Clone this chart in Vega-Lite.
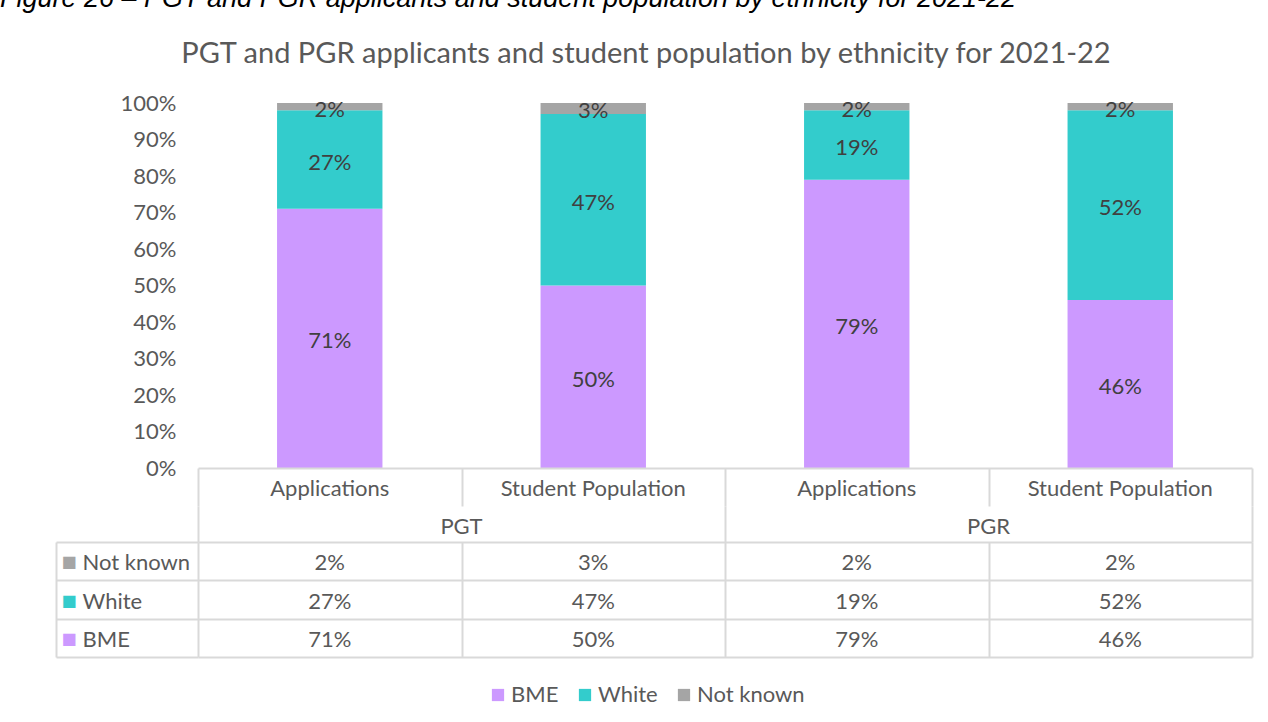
{
  "$schema": "https://vega.github.io/schema/vega-lite/v6.json",
  "padding": {"left": 0, "top": -15, "right": 10, "bottom": 10},
  "background": "white",
  "title": {
    "text": "Figure 26 – PGT and PGR applicants and student population by ethnicity for 2021-22",
    "anchor": "start", "frame": "bounds", "dx": -55,
    "font": "Liberation Sans", "fontStyle": "italic", "fontWeight": "normal",
    "fontSize": 27, "color": "#000000", "baseline": "alphabetic", "offset": 6
  },
  "datasets": {
    "d": [
      {"grp": "PGT", "sub": "Applications", "col": "PGT Applications", "eth": "BME", "val": 0.71},
      {"grp": "PGT", "sub": "Applications", "col": "PGT Applications", "eth": "White", "val": 0.27},
      {"grp": "PGT", "sub": "Applications", "col": "PGT Applications", "eth": "Not known", "val": 0.02},
      {"grp": "PGT", "sub": "Student Population", "col": "PGT Student Population", "eth": "BME", "val": 0.50},
      {"grp": "PGT", "sub": "Student Population", "col": "PGT Student Population", "eth": "White", "val": 0.47},
      {"grp": "PGT", "sub": "Student Population", "col": "PGT Student Population", "eth": "Not known", "val": 0.03},
      {"grp": "PGR", "sub": "Applications", "col": "PGR Applications", "eth": "BME", "val": 0.79},
      {"grp": "PGR", "sub": "Applications", "col": "PGR Applications", "eth": "White", "val": 0.19},
      {"grp": "PGR", "sub": "Applications", "col": "PGR Applications", "eth": "Not known", "val": 0.02},
      {"grp": "PGR", "sub": "Student Population", "col": "PGR Student Population", "eth": "BME", "val": 0.46},
      {"grp": "PGR", "sub": "Student Population", "col": "PGR Student Population", "eth": "White", "val": 0.52},
      {"grp": "PGR", "sub": "Student Population", "col": "PGR Student Population", "eth": "Not known", "val": 0.02}
    ]
  },
  "spacing": 0,
  "bounds": "flush",
  "vconcat": [
    {
      "width": 1054, "height": 365,
      "data": {"name": "d"},
      "title": {
        "text": "PGT and PGR applicants and student population by ethnicity for 2021-22",
        "font": "Lato", "fontSize": 29, "fontWeight": "normal", "color": "#595959",
        "anchor": "middle", "frame": "group", "dx": -79, "baseline": "alphabetic", "offset": 0
      },
      "transform": [
        {"calculate": "indexof(['BME','White','Not known'], datum.eth)", "as": "ord"},
        {"stack": "val", "groupby": ["col"], "sort": [{"field": "ord", "order": "ascending"}], "as": ["v0", "v1"]},
        {"calculate": "(datum.v0 + datum.v1) / 2", "as": "mid"}
      ],
      "layer": [
        {
          "mark": {"type": "bar"},
          "encoding": {
            "x": {"field": "col", "type": "nominal",
                  "scale": {"domain": ["PGT Applications", "PGT Student Population", "PGR Applications", "PGR Student Population"], "paddingInner": 0.6, "paddingOuter": 0.3},
                  "axis": null},
            "y": {"field": "v0", "type": "quantitative",
                  "scale": {"domain": [0, 1], "nice": false, "clamp": true},
                  "axis": {"values": [0, 0.1, 0.2, 0.3, 0.4, 0.5, 0.6, 0.7, 0.8, 0.9, 1], "format": ".0%", "labelOverlap": false, "grid": false, "domain": false, "ticks": false, "labelPadding": 22, "labelFontSize": 22, "title": null}},
            "y2": {"field": "v1"},
            "color": {"field": "eth", "type": "nominal",
                      "scale": {"domain": ["BME", "White", "Not known"], "range": ["#CC99FF", "#33CCCC", "#A5A5A5"]},
                      "legend": {"orient": "none", "legendX": 289, "legendY": 581, "direction": "horizontal", "title": null, "padding": 0, "symbolType": "square", "symbolSize": 150, "symbolStrokeWidth": 0, "labelFontSize": 22, "labelFont": "Lato", "labelColor": "#595959", "columnPadding": 15, "labelOffset": 2}}
          }
        },
        {
          "mark": {"type": "text", "font": "Lato", "fontSize": 22, "color": "#404040", "dy": 3},
          "encoding": {
            "x": {"field": "col", "type": "nominal"},
            "y": {"field": "mid", "type": "quantitative",
                  "axis": {"values": [0, 0.1, 0.2, 0.3, 0.4, 0.5, 0.6, 0.7, 0.8, 0.9, 1], "format": ".0%", "labelOverlap": false, "grid": false, "domain": false, "ticks": false, "labelPadding": 22, "labelFontSize": 22, "title": null}},
            "text": {"field": "val", "type": "quantitative", "format": ".0%"}
          }
        }
      ]
    },
    {
      "width": 1054, "height": 38,
      "data": {"name": "d"},
      "transform": [{"filter": "datum.eth === 'BME'"}],
      "mark": {"type": "text", "font": "Lato", "fontSize": 22, "color": "#595959", "dy": 2},
      "encoding": {
        "x": {"field": "col", "type": "nominal",
              "scale": {"domain": ["PGT Applications", "PGT Student Population", "PGR Applications", "PGR Student Population"], "paddingInner": 0, "paddingOuter": 0},
              "axis": {"orient": "top", "grid": true, "tickBand": "extent", "labels": false, "ticks": false, "domain": true, "domainColor": "#D9D9D9", "domainWidth": 2, "gridColor": "#D9D9D9", "gridWidth": 2, "gridOpacity": 1, "title": null}},
        "text": {"field": "sub"}
      }
    },
    {
      "width": 1054, "height": 36,
      "data": {"name": "d"},
      "transform": [{"filter": "datum.eth === 'BME' && datum.sub === 'Applications'"}],
      "mark": {"type": "text", "font": "Lato", "fontSize": 22, "color": "#595959", "dy": 3},
      "encoding": {
        "x": {"field": "grp", "type": "nominal",
              "scale": {"domain": ["PGT", "PGR"], "paddingInner": 0, "paddingOuter": 0},
              "axis": {"orient": "top", "grid": true, "tickBand": "extent", "labels": false, "ticks": false, "domain": false, "gridColor": "#D9D9D9", "gridWidth": 2, "gridOpacity": 1, "title": null}},
        "text": {"field": "grp"}
      }
    },
    {
      "width": 1054, "height": 115,
      "data": {"name": "d"},
      "resolve": {"axis": {"y": "independent"}},
      "layer": [
        {
          "mark": {"type": "text", "font": "Lato", "fontSize": 22, "color": "#595959", "dy": 2},
          "encoding": {
            "x": {"field": "col", "type": "nominal",
                  "scale": {"domain": ["PGT Applications", "PGT Student Population", "PGR Applications", "PGR Student Population"], "paddingInner": 0, "paddingOuter": 0},
                  "axis": {"orient": "top", "grid": true, "tickBand": "extent", "labels": false, "ticks": false, "domain": false, "gridColor": "#D9D9D9", "gridWidth": 2, "gridOpacity": 1, "title": null}},
            "y": {"field": "eth", "type": "nominal",
                  "scale": {"domain": ["Not known", "White", "BME"], "paddingInner": 0, "paddingOuter": 0},
                  "axis": {"orient": "left", "grid": true, "tickBand": "extent", "labels": false, "ticks": false, "domain": false, "gridColor": "#D9D9D9", "gridWidth": 2, "gridOpacity": 1, "title": null}},
            "text": {"field": "val", "type": "quantitative", "format": ".0%"}
          }
        },
        {
          "mark": {"type": "text", "opacity": 0},
          "encoding": {
            "y": {"field": "eth", "type": "nominal",
                  "axis": {"orient": "left", "offset": 142, "grid": false, "tickBand": "extent", "labels": false, "ticks": true, "tickSize": -142, "tickColor": "#D9D9D9", "tickWidth": 2, "domain": true, "domainColor": "#D9D9D9", "domainWidth": 2, "title": null}},
            "text": {"field": "eth"}
          }
        },
        {
          "mark": {"type": "text", "opacity": 0},
          "encoding": {
            "y": {"field": "eth", "type": "nominal",
                  "axis": {"orient": "left", "offset": 142, "grid": false, "ticks": false, "domain": false, "labels": true, "labelAlign": "left", "labelPadding": -26, "labelOffset": 2, "labelFont": "Lato", "labelFontSize": 22, "labelColor": "#595959", "title": null}},
            "text": {"field": "eth"}
          }
        },
        {
          "mark": {"type": "text", "opacity": 0},
          "encoding": {
            "y": {"field": "eth", "type": "nominal",
                  "axis": {"orient": "left", "offset": 142, "grid": false, "ticks": false, "domain": false, "labels": true, "labelAlign": "left", "labelPadding": -5, "labelOffset": 1, "labelExpr": "'■'", "labelFont": "DejaVu Sans", "labelFontSize": 16,
                           "labelColor": {"expr": "datum.value === 'BME' ? '#CC99FF' : datum.value === 'White' ? '#33CCCC' : '#A5A5A5'"}, "title": null}},
            "text": {"field": "eth"}
          }
        }
      ]
    }
  ],
  "config": {
    "view": {"stroke": null},
    "font": "Lato",
    "axis": {"labelFont": "Lato", "labelFontSize": 22, "labelColor": "#595959", "labelOverlap": false}
  }
}
